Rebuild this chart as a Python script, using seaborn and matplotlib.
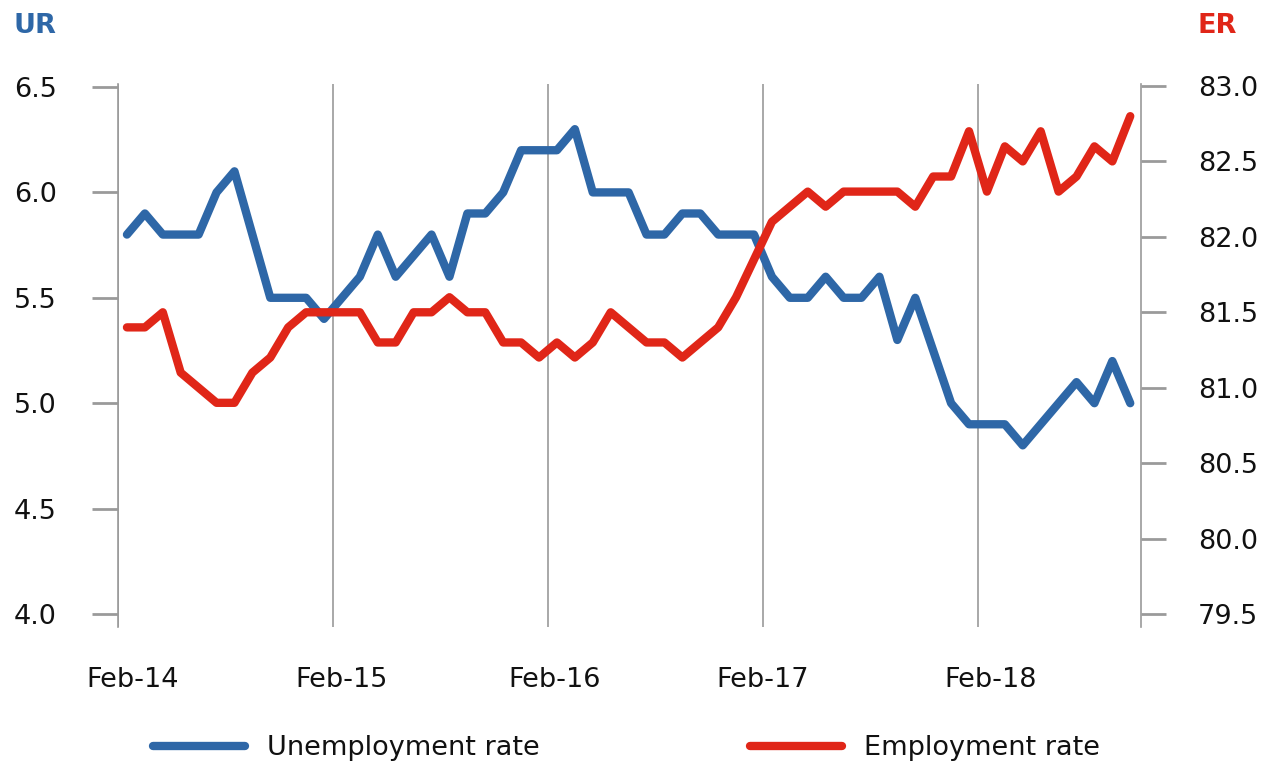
import matplotlib
matplotlib.use("Agg")
import matplotlib.pyplot as plt
from matplotlib.lines import Line2D
import numpy as np
import pandas as pd
import seaborn as sns

# ---------------- data ----------------
ur = [5.8, 5.9, 5.8, 5.8, 5.8, 6.0, 6.1, 5.8, 5.5, 5.5,
      5.5, 5.4, 5.5, 5.6, 5.8, 5.6, 5.7, 5.8, 5.6, 5.9,
      5.9, 6.0, 6.2, 6.2, 6.2, 6.3, 6.0, 6.0, 6.0, 5.8,
      5.8, 5.9, 5.9, 5.8, 5.8, 5.8, 5.6, 5.5, 5.5, 5.6,
      5.5, 5.5, 5.6, 5.3, 5.5, 5.25, 5.0, 4.9, 4.9, 4.9,
      4.8, 4.9, 5.0, 5.1, 5.0, 5.2, 5.0]
er = [81.4, 81.4, 81.5, 81.1, 81.0, 80.9, 80.9, 81.1, 81.2, 81.4,
      81.5, 81.5, 81.5, 81.5, 81.3, 81.3, 81.5, 81.5, 81.6, 81.5,
      81.5, 81.3, 81.3, 81.2, 81.3, 81.2, 81.3, 81.5, 81.4, 81.3,
      81.3, 81.2, 81.3, 81.4, 81.6, 81.85, 82.1, 82.2, 82.3, 82.2,
      82.3, 82.3, 82.3, 82.3, 82.2, 82.4, 82.4, 82.7, 82.3, 82.6,
      82.5, 82.7, 82.3, 82.4, 82.6, 82.5, 82.8]
x_labels = ["Feb-14", "Feb-15", "Feb-16", "Feb-17", "Feb-18"]
ur_ticks = [4.0, 4.5, 5.0, 5.5, 6.0, 6.5]
er_ticks = [79.5, 80.0, 80.5, 81.0, 81.5, 82.0, 82.5, 83.0]
series_names = ["Unemployment rate", "Employment rate"]

# ---------------- style ----------------
BLUE = "#2E67A7"
RED = "#E02618"
GRAY = "#9A9A9A"
TXT = "#111111"
FS = 19.5

sns.set_style("white")
plt.rcParams["font.family"] = ["DejaVu Sans"]
plt.rcParams["text.color"] = TXT

df = pd.DataFrame({"idx": np.arange(len(ur)), "UR": ur, "ER": er})

W, H = 1272, 763
fig = plt.figure(figsize=(W / 100, H / 100), dpi=100)
left, right, top, bottom = 118, 1141, 84, 627
ax = fig.add_axes([left / W, 1 - bottom / H, (right - left) / W, (bottom - top) / H])
ax2 = ax.twinx()

lw = 6
sns.lineplot(data=df, x="idx", y="UR", ax=ax, color=BLUE, linewidth=lw,
             solid_capstyle="round", solid_joinstyle="round")
sns.lineplot(data=df, x="idx", y="ER", ax=ax2, color=RED, linewidth=lw,
             solid_capstyle="round", solid_joinstyle="round")

# axis limits (gridlines extend slightly beyond value range)
ax.set_xlim(-0.5, 56.6)
ax.set_ylim(4.0 - 13 / 210.8, 6.5 + 3 / 210.8)
ax2.set_ylim(79.5 - 13 / 151.1, 83.0 + 2 / 151.1)

# vertical gridlines at year boundaries
for g in [-0.5, 11.5, 23.5, 35.5, 47.5]:
    ax.axvline(g, color=GRAY, lw=1.2, zorder=0)

# x labels (no tick marks)
label_pos = [0.3, 12.0, 23.85, 35.5, 48.2]
ax.set_xticks(label_pos)
ax.set_xticklabels(x_labels)
ax.tick_params(axis="x", length=0, pad=29, labelsize=FS, colors=TXT)

ax.set_yticks(ur_ticks)
ax.set_yticklabels([f"{v:.1f}" for v in ur_ticks])
ax.tick_params(axis="y", direction="out", length=19, width=2, color=GRAY,
               pad=25, labelsize=FS, labelcolor=TXT)
ax2.set_yticks(er_ticks)
ax2.set_yticklabels([f"{v:.1f}" for v in er_ticks])
ax2.tick_params(axis="y", direction="out", length=18, width=2, color=GRAY,
                pad=23, labelsize=FS, labelcolor=TXT)

for a in (ax, ax2):
    a.set_xlabel("")
    a.set_ylabel("")
    a.grid(False)
    for s in ["top", "bottom"]:
        a.spines[s].set_visible(False)
ax.spines["right"].set_visible(False)
ax.spines["left"].set_color(GRAY)
ax.spines["left"].set_linewidth(1.2)
ax2.spines["left"].set_visible(False)
ax2.spines["right"].set_color(GRAY)
ax2.spines["right"].set_linewidth(1.2)

# axis titles
fig.text(14 / W, 1 - 26 / H, "UR", color=BLUE, fontsize=19.5, fontweight="bold",
         va="center", ha="left")
fig.text(1198 / W, 1 - 26 / H, "ER", color=RED, fontsize=19.5, fontweight="bold",
         va="center", ha="left")

# legend (two separate entries placed like the reference)
for name, col, x0 in [(series_names[0], BLUE, 153), (series_names[1], RED, 750)]:
    h = Line2D([0], [0], color=col, lw=lw, solid_capstyle="round")
    leg = fig.legend([h], [name], loc="center left", bbox_to_anchor=(x0 / W, 1 - 748 / H),
                     frameon=False, fontsize=FS, handlelength=3.4, handletextpad=0.8,
                     borderpad=0, borderaxespad=0)
    for t in leg.get_texts():
        t.set_color(TXT)

fig.savefig("out.png", dpi=100)
